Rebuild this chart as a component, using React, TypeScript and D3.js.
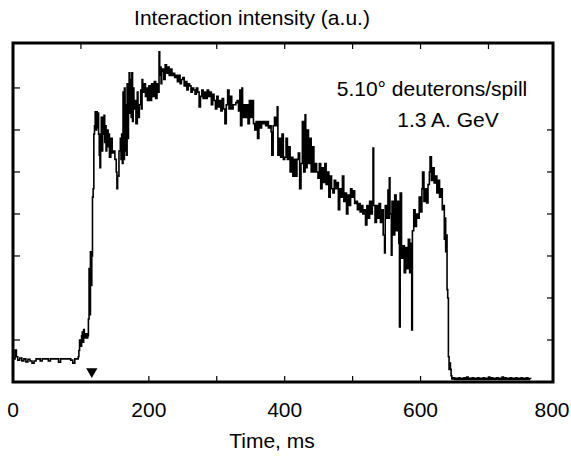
import React from 'react';
import * as d3 from 'd3';

const W = 571;
const H = 456;

const xTicksBottom = [200, 300, 400, 500, 600];
const xTicksTop = [100, 300, 400, 500, 600, 700];
const xTickLabels = [0, 200, 400, 600, 800];
const yTicksLeft = [1, 3, 4, 5, 6, 7];
const yTicksRight = [1, 2, 3, 4, 5, 6];
const markerTime = 116;
const markerLevel = 0.25;

const titleText = 'Interaction intensity (a.u.)';
const xAxisTitle = 'Time, ms';
const noteLines = ['5.10\u00b0 deuterons/spill', '1.3 A. GeV'];

// [time ms, intensity a.u.]
const spill: [number, number][] = [
  [1, 0.55], [3, 0.76], [5, 0.6], [7, 0.52], [10, 0.57], [13, 0.5], [16, 0.55], [19, 0.48], [22, 0.54], [25, 0.5],
  [28, 0.45], [31, 0.5], [34, 0.55], [37, 0.55], [40, 0.5], [43, 0.55], [46, 0.55], [49, 0.55], [52, 0.5], [55, 0.55],
  [58, 0.55], [61, 0.55], [64, 0.55], [67, 0.47], [70, 0.55], [73, 0.55], [76, 0.55], [79, 0.55], [82, 0.55], [85, 0.52],
  [88, 0.45], [91, 0.55], [94, 0.55],
  [96, 0.6], [97, 0.75], [98, 1.0], [100, 0.85], [101, 1.1], [102, 1.19], [103, 0.95], [104, 1.25], [105, 1.05], [107, 1.15],
  [109, 1.05], [110, 1.1], [111, 1.5], [112, 2.7], [113, 1.6], [114, 3.1], [115, 2.3], [116, 3.0], [117, 4.4], [118, 4.6],
  [119, 5.9], [120, 6.1], [121, 6.43], [122, 6.0], [123, 6.43], [124, 6.05], [125, 6.4], [126, 5.9], [127, 5.4], [128, 5.1],
  [129, 5.9], [130, 6.3], [131, 5.5], [132, 6.3], [133, 5.9], [134, 6.35], [135, 5.7], [136, 6.1], [137, 5.5], [138, 6.0],
  [140, 5.6], [141, 5.9], [142, 5.35], [144, 5.8], [146, 5.45], [148, 5.5], [150, 5.3], [152, 5.0], [153, 4.6], [154, 4.9],
  [156, 5.5], [158, 5.8], [159, 5.3], [160, 5.9], [161, 5.2], [162, 6.9], [163, 5.3], [164, 7.0], [165, 5.5], [166, 6.6],
  [167, 5.4], [168, 7.1], [169, 5.8], [170, 6.8], [171, 7.36], [172, 6.4], [173, 7.2], [174, 6.3], [175, 7.36], [176, 6.2],
  [177, 7.0], [178, 6.5], [180, 6.7], [181, 6.15], [183, 6.9], [184, 6.3], [186, 6.6], [188, 6.95], [189, 6.5], [190, 7.2],
  [191, 6.9], [193, 7.1], [195, 6.8], [197, 7.0], [198, 6.7], [200, 7.05], [202, 6.7], [204, 7.1], [206, 6.8], [208, 7.15],
  [210, 6.75], [212, 7.1], [214, 6.9], [215, 7.86], [216, 7.3], [217, 7.5], [218, 7.1], [219, 7.4],
  [220, 7.45], [222, 7.2], [224, 7.55], [226, 7.35], [228, 7.5], [230, 7.3], [232, 7.45], [234, 7.3], [236, 7.35], [238, 7.25],
  [240, 7.3], [242, 7.15], [244, 7.3], [246, 7.1], [248, 7.2], [250, 7.25], [252, 7.05], [254, 7.15], [256, 6.95], [258, 7.1],
  [260, 7.05], [262, 6.9], [264, 7.0], [266, 6.95], [268, 6.85], [270, 7.0], [272, 6.9], [274, 6.55], [276, 6.8], [278, 6.95],
  [280, 6.75], [282, 6.9], [284, 6.75], [286, 6.95], [288, 6.8], [290, 6.9], [292, 6.6], [294, 6.85], [296, 6.7], [298, 6.5],
  [300, 6.8], [302, 6.55], [304, 6.7], [306, 6.45], [308, 6.75], [310, 6.5], [312, 6.15], [314, 6.6], [316, 6.95], [318, 6.5],
  [320, 6.8], [322, 6.5], [324, 6.6], [326, 6.6], [328, 6.65], [330, 6.7], [332, 6.45], [334, 6.95], [335, 6.1], [337, 7.0],
  [338, 6.3], [340, 6.6], [342, 6.3], [344, 6.6], [346, 6.15], [348, 6.7], [350, 6.3], [352, 6.7], [354, 6.15], [356, 6.0],
  [358, 6.2], [360, 5.8], [362, 6.2], [364, 6.05], [366, 6.2], [368, 6.15], [370, 6.2], [372, 6.1], [374, 6.2], [376, 6.05],
  [378, 6.1], [380, 5.95], [381, 5.4], [383, 6.1], [385, 6.3], [387, 6.1], [389, 6.55], [390, 5.4], [392, 5.8], [394, 5.35],
  [396, 5.9], [398, 5.3], [400, 5.35], [402, 5.8], [404, 5.3], [406, 5.6], [408, 5.0], [410, 5.35], [412, 4.9], [414, 5.3],
  [416, 4.9], [418, 5.3], [420, 5.45], [422, 4.6], [424, 5.2], [426, 6.2], [428, 5.0], [430, 6.36], [431, 5.1], [433, 6.0],
  [435, 5.2], [437, 5.8], [439, 5.0], [441, 5.6], [443, 5.0], [445, 5.2], [447, 5.0], [449, 4.85], [451, 5.2], [453, 4.6],
  [455, 5.1], [457, 4.75], [459, 5.2], [461, 4.7], [463, 5.0], [465, 4.4], [467, 4.9], [469, 4.6], [471, 4.5], [473, 4.8],
  [475, 4.6], [477, 4.75], [479, 4.1], [481, 4.6], [483, 4.4], [485, 4.9], [487, 4.3], [489, 4.5], [491, 4.0], [493, 4.45],
  [495, 4.2], [497, 4.6], [499, 4.4], [501, 4.55], [503, 4.25], [505, 4.3], [507, 4.1], [509, 4.25], [511, 4.05], [513, 4.2],
  [515, 4.0], [517, 4.1], [519, 3.74], [521, 4.2], [523, 3.9], [525, 4.3], [527, 4.0], [529, 4.3], [530, 5.57], [531, 4.2],
  [533, 3.8], [535, 4.2], [537, 3.9], [539, 4.25], [541, 3.8], [543, 4.1], [545, 3.5], [547, 3.07], [548, 4.2], [550, 3.9],
  [552, 4.57], [553, 3.9], [554, 4.86], [555, 4.0], [557, 3.02], [558, 4.3], [560, 3.5], [562, 4.45], [564, 3.6], [566, 4.3],
  [568, 3.3], [569, 1.31], [570, 4.5], [572, 2.95], [574, 3.24], [576, 2.6], [578, 3.2], [580, 2.7], [582, 3.4], [584, 2.6],
  [586, 3.3], [587, 1.24], [588, 3.6], [590, 4.1], [592, 3.7], [594, 4.0], [596, 3.9], [598, 4.4], [600, 4.05], [602, 4.6],
  [603, 5.0], [605, 4.3], [607, 4.6], [609, 4.26], [611, 4.7], [613, 5.0], [614, 5.36], [616, 4.8], [618, 5.1], [620, 4.74],
  [622, 4.9], [624, 4.5], [626, 4.8], [628, 4.4], [630, 4.6], [632, 4.1], [634, 4.2], [635, 3.4], [636, 3.9], [637, 3.1],
  [638, 3.5], [639, 2.2], [640, 2.0], [641, 0.6], [642, 0.3], [643, 0.45], [644, 0.3], [645, 0.15],
  [646, 0.07], [648, 0.1], [650, 0.06], [652, 0.09], [654, 0.06], [656, 0.1], [658, 0.06], [660, 0.09], [662, 0.06], [664, 0.1],
  [666, 0.06], [668, 0.12], [670, 0.06], [672, 0.09], [674, 0.06], [676, 0.1], [678, 0.06], [680, 0.09], [682, 0.06], [684, 0.1],
  [686, 0.06], [688, 0.09], [690, 0.06], [692, 0.1], [694, 0.06], [696, 0.09], [698, 0.06], [700, 0.12], [702, 0.06], [704, 0.1],
  [706, 0.06], [708, 0.09], [710, 0.06], [712, 0.1], [714, 0.06], [716, 0.09], [718, 0.06], [720, 0.12], [722, 0.06], [724, 0.1],
  [726, 0.06], [728, 0.09], [730, 0.06], [732, 0.1], [734, 0.06], [736, 0.09], [738, 0.06], [740, 0.1], [742, 0.06], [744, 0.09],
  [746, 0.06], [748, 0.1], [750, 0.06], [752, 0.09], [754, 0.06], [756, 0.1], [758, 0.06], [760, 0.08], [762, 0.07],
];

export default function App() {
  const x = d3.scaleLinear().domain([0, 795]).range([13, 553]);
  const y = d3.scaleLinear().domain([0, 8.07]).range([382, 43]);
  const line = d3
    .line<[number, number]>()
    .x((d) => x(d[0]))
    .y((d) => y(d[1]))
    .curve(d3.curveStepAfter);
  const tri = d3.symbol().type(d3.symbolTriangle).size(55)();
  const font = 'Liberation Sans, Arial, Helvetica, sans-serif';
  const [x0, x1] = x.range();
  const [yb, yt] = y.range();
  const tickLen = 6;
  const fs = 21;

  return (
    <svg
      width={W}
      height={H}
      style={{ position: 'absolute', left: 0, top: 0, background: '#fff' }}
      fontFamily={font}
    >
      <rect x={0} y={0} width={W} height={H} fill="#fff" />
      <text x={252} y={25} fontSize={fs} textAnchor="middle" fill="#000">
        {titleText}
      </text>
      {/* data */}
      <path d={line(spill) || ''} fill="none" stroke="#000" strokeWidth={1.6} strokeLinejoin="miter" />
      {/* ticks */}
      {xTicksBottom.map((t) => (
        <line key={'b' + t} x1={x(t)} x2={x(t)} y1={yb} y2={yb - tickLen} stroke="#000" strokeWidth={1.2} />
      ))}
      {xTicksTop.map((t) => (
        <line key={'t' + t} x1={x(t)} x2={x(t)} y1={yt} y2={yt + tickLen} stroke="#000" strokeWidth={1.2} />
      ))}
      {yTicksLeft.map((t) => (
        <line key={'l' + t} x1={x0} x2={x0 + tickLen + 1} y1={y(t)} y2={y(t)} stroke="#000" strokeWidth={1.2} />
      ))}
      {yTicksRight.map((t) => (
        <line key={'r' + t} x1={x1} x2={x1 - tickLen} y1={y(t)} y2={y(t)} stroke="#000" strokeWidth={1.2} />
      ))}
      {/* frame */}
      <rect x={x0} y={yt} width={x1 - x0} height={yb - yt} fill="none" stroke="#000" strokeWidth={3} />
      {/* marker */}
      <path d={tri || ''} transform={`translate(${x(markerTime)},${y(markerLevel)}) rotate(180)`} fill="#000" />
      {/* tick labels */}
      {xTickLabels.map((t) => (
        <text
          key={'lab' + t}
          x={Math.min(x(t), W - 19)}
          y={417}
          fontSize={fs}
          textAnchor="middle"
          fill="#000"
        >
          {t}
        </text>
      ))}
      <text x={272} y={448} fontSize={fs} textAnchor="middle" fill="#000">
        {xAxisTitle}
      </text>
      <text x={432} y={96} fontSize={fs} textAnchor="middle" fill="#000">
        {noteLines[0]}
      </text>
      <text x={448} y={127} fontSize={fs} textAnchor="middle" fill="#000">
        {noteLines[1]}
      </text>
    </svg>
  );
}
